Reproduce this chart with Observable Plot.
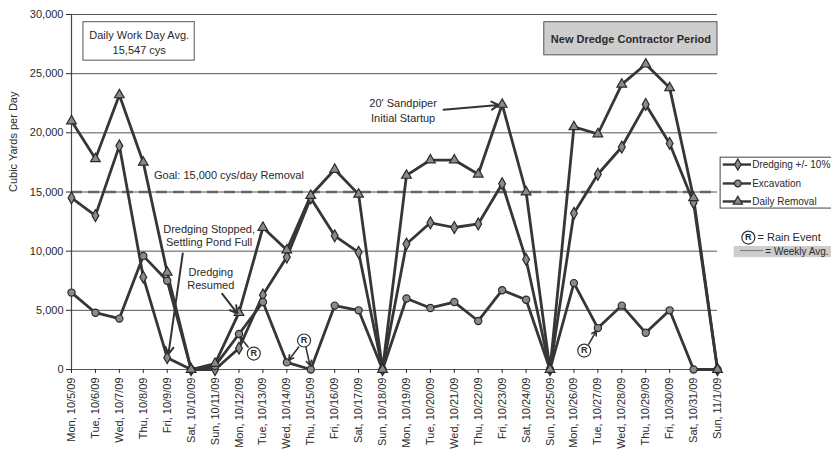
<!DOCTYPE html>
<html><head><meta charset="utf-8">
<script src="https://cdn.jsdelivr.net/npm/d3@7"></script>
<script src="https://cdn.jsdelivr.net/npm/@observablehq/plot@0.6"></script>
<style>body{margin:0;background:#fff}#chart svg{display:block}</style>
</head><body><div id="chart"></div>
<script>
const days = ["Mon, 10/5/09","Tue, 10/6/09","Wed, 10/7/09","Thu, 10/8/09","Fri, 10/9/09","Sat, 10/10/09","Sun, 10/11/09","Mon, 10/12/09","Tue, 10/13/09","Wed, 10/14/09","Thu, 10/15/09","Fri, 10/16/09","Sat, 10/17/09","Sun, 10/18/09","Mon, 10/19/09","Tue, 10/20/09","Wed, 10/21/09","Thu, 10/22/09","Fri, 10/23/09","Sat, 10/24/09","Sun, 10/25/09","Mon, 10/26/09","Tue, 10/27/09","Wed, 10/28/09","Thu, 10/29/09","Fri, 10/30/09","Sat, 10/31/09","Sun, 11/1/09"];
const dredging   = [14500,13000,18900,7800,1000,0,0,1800,6300,9500,14500,11300,9900,0,10600,12400,12000,12300,15700,9300,0,13200,16500,18800,22400,19100,14100,0];
const excavation = [6500,4800,4300,9600,7500,0,300,3000,5700,600,0,5400,5000,0,6000,5200,5700,4100,6700,5900,0,7300,3500,5400,3100,5000,0,0];
const removal    = [21000,17800,23200,17500,8200,0,500,4800,12000,10100,14700,16900,14800,0,16400,17700,17700,16500,22400,15000,0,20500,19900,24100,25800,23800,14500,0];
const seriesNames = ["Dredging +/- 10%","Excavation","Daily Removal"];
const yTicks = [0,5000,10000,15000,20000,25000,30000];
const goal = 15000;
const avgLabel = "Daily Work Day Avg.\n15,547 cys";
const periodLabel = "New Dredge Contractor Period";

const seriesValues = [dredging, excavation, removal];
const table = seriesNames.flatMap((name, k) => seriesValues[k].map((v, i) => ({series: name, i, value: v})));

const ink = "#2a2a2a";
const lineColor = "#363636";

const legendRows = [
  {series: seriesNames[0], y: 17320},
  {series: seriesNames[1], y: 15720},
  {series: seriesNames[2], y: 14200}
];
const rain = [{x: 7.62, y: 1350}, {x: 9.72, y: 2450}, {x: 21.43, y: 1600}];
const rainArrows = [
  {x1: 7.38, y1: 1900, x2: 7.05, y2: 2750},
  {x1: 9.5, y1: 1900, x2: 9.08, y2: 800},
  {x1: 9.8, y1: 1850, x2: 9.97, y2: 350},
  {x1: 21.62, y1: 2150, x2: 21.93, y2: 3250}
];
const pointers = [
  {x1: 15.55, y1: 21950, x2: 17.85, y2: 22350},
  {x1: 4.65, y1: 9800, x2: 4.05, y2: 1300},
  {x1: 6.3, y1: 6400, x2: 6.93, y2: 4750}
];

const chart = Plot.plot({
  width: 831, height: 450,
  marginLeft: 71, marginRight: 114, marginTop: 14, marginBottom: 81,
  style: {fontFamily: "'Liberation Sans', Arial, sans-serif", fontSize: "11px", background: "#fff", color: ink},
  x: {type: "linear", domain: [0, 27]},
  y: {domain: [0, 30000]},
  symbol: {domain: seriesNames, range: ["diamond", "circle", "triangle"]},
  marks: [
    Plot.ruleY(yTicks, {stroke: "#555", strokeWidth: 1}),
    Plot.ruleX([0], {stroke: "#444", strokeWidth: 1.2}),
    Plot.axisY({ticks: yTicks, tickFormat: d3.format(","), tickSize: 5, tickPadding: 3, label: null, fontSize: 11}),
    Plot.axisX({ticks: d3.range(days.length), tickFormat: i => days[i], tickRotate: -90, tickSize: 4, tickPadding: 4, label: null, fontSize: 11}),
    Plot.text(["Cubic Yards per Day"], {frameAnchor: "left", dx: -58, rotate: -90, fontSize: 11, fill: ink}),
    // goal line
    Plot.ruleY([goal], {x1: 0, x2: 27, stroke: "#666", strokeWidth: 2.5, strokeDasharray: "11,6"}),
    Plot.text(["Goal: 15,000 cys/day Removal"], {x: 3.45, y: 16400, textAnchor: "start", fill: ink}),
    // series
    Plot.line(table, {x: "i", y: "value", z: "series", stroke: lineColor, strokeWidth: 2.8, strokeLinejoin: "round"}),
    Plot.dot(table, {x: "i", y: "value", symbol: "series", r: 3.6, fill: "#8a8a8a", stroke: "#2a2a2a", strokeWidth: 1.2}),
    // annotation boxes
    Plot.rect([avgLabel], {x1: 0.5, x2: 5.15, y1: 26100, y2: 29350, fill: "#fff", stroke: "#555", strokeWidth: 1}),
    Plot.text([avgLabel], {x: 2.83, y: 27700, lineHeight: 1.35, fill: ink}),
    Plot.rect([periodLabel], {x1: 19.76, x2: 27.0, y1: 26550, y2: 29350, fill: "#cdcdcd", stroke: "#555", strokeWidth: 1}),
    Plot.text([periodLabel], {x: 23.38, y: 27900, fontWeight: "bold", fill: ink}),
    Plot.text(["20' Sandpiper\nInitial Startup"], {x: 13.86, y: 21930, lineHeight: 1.3, fill: ink}),
    Plot.text(["Dredging Stopped,\nSettling Pond Full"], {x: 5.75, y: 11320, lineHeight: 1.2, fill: ink}),
    Plot.text(["Dredging\nResumed"], {x: 5.82, y: 7690, lineHeight: 1.2, fill: ink}),
    Plot.arrow(pointers, {x1: "x1", y1: "y1", x2: "x2", y2: "y2", stroke: "#333", strokeWidth: 2, headLength: 6}),
    // rain events
    Plot.arrow(rainArrows, {x1: "x1", y1: "y1", x2: "x2", y2: "y2", stroke: "#333", strokeWidth: 1.6, headLength: 5}),
    Plot.dot(rain, {x: "x", y: "y", r: 6.5, fill: "#fff", stroke: "#333", strokeWidth: 1.2}),
    Plot.text(rain, {x: "x", y: "y", text: () => "R", fontSize: 9, fontWeight: "bold", fill: ink}),
    // legend
    Plot.rect([0], {x1: 27.13, x2: 32.5, y1: 13600, y2: 17900, fill: "#fff", stroke: "#444", strokeWidth: 1}),
    Plot.link(legendRows, {x1: 27.22, x2: 28.4, y1: "y", y2: "y", stroke: lineColor, strokeWidth: 2.4}),
    Plot.dot(legendRows, {x: 27.85, y: "y", symbol: "series", r: 3.4, fill: "#8a8a8a", stroke: "#2a2a2a", strokeWidth: 1.2}),
    Plot.text(legendRows, {x: 28.45, y: "y", text: "series", textAnchor: "start", fontSize: 10, fill: ink}),
    Plot.dot([0], {x: 28.29, y: 11150, r: 6.5, fill: "#fff", stroke: "#333", strokeWidth: 1.2}),
    Plot.text([0], {x: 28.29, y: 11150, text: () => "R", fontSize: 9, fontWeight: "bold", fill: ink}),
    Plot.text(["= Rain Event"], {x: 28.67, y: 11150, textAnchor: "start", fontSize: 11, fill: ink}),
    Plot.rect([0], {x1: 27.7, x2: 32.5, y1: 9450, y2: 10400, fill: "#cdcdcd"}),
    Plot.link([0], {x1: 27.95, x2: 28.9, y1: 10050, y2: 10050, stroke: "#777", strokeWidth: 1}),
    Plot.text(["= Weekly Avg."], {x: 29.0, y: 9920, textAnchor: "start", fontSize: 10, fill: ink})
  ]
});
document.getElementById("chart").appendChild(chart);
</script>
</body></html>
